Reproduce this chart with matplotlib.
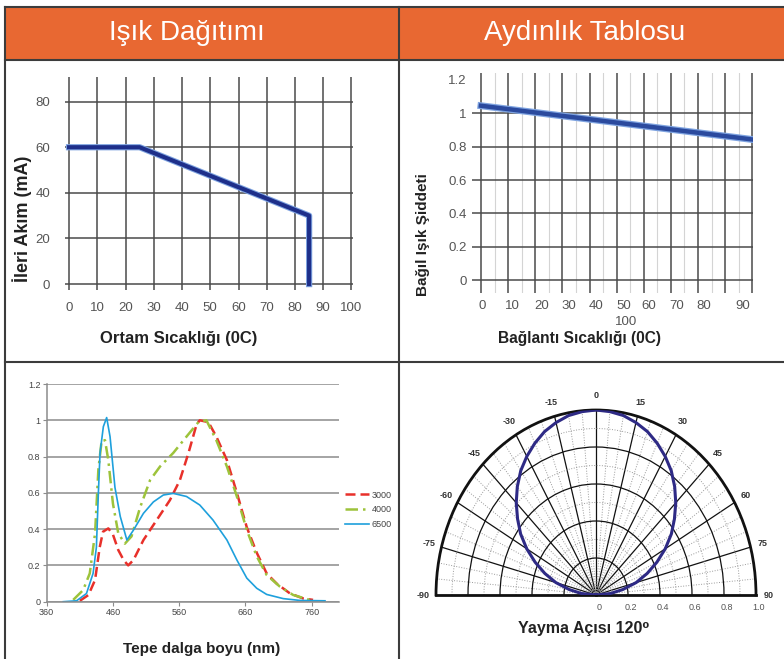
import numpy as np
import matplotlib
matplotlib.use("Agg")
import matplotlib.pyplot as plt
from matplotlib.patches import Rectangle
from matplotlib.transforms import offset_copy, blended_transform_factory

plt.rcParams["font.family"] = ["Liberation Sans", "DejaVu Sans"]

# --- data ---
# panel 1: derating curve
temp1 = [0, 25, 85, 85]
current1 = [60, 60, 30, 0]

# panel 2: relative intensity vs junction temperature
temp2 = [0, 100]
intensity2 = [1.045, 0.843]
temp2_labels = ["0", "10", "20", "30", "40", "50", "60", "70", "80", "90"]

# panel 3: spectra
wl_3000 = [410, 423, 433, 440, 445, 453, 460, 468, 476, 483, 491, 506, 526, 546, 561,
           574, 586, 591, 604, 616, 632, 647, 662, 677, 692, 707, 727, 747, 762]
rel_3000 = [0.005, 0.037, 0.12, 0.30, 0.386, 0.404, 0.37, 0.285, 0.23, 0.20, 0.23, 0.34,
            0.45, 0.56, 0.67, 0.82, 0.975, 1.0, 0.99, 0.91, 0.78, 0.6, 0.41, 0.27, 0.156,
            0.10, 0.046, 0.018, 0.01]
wl_4000 = [400, 415, 425, 433, 438, 443, 448, 453, 460, 468, 478, 488, 501, 516, 531,
           551, 571, 589, 601, 616, 632, 647, 662, 677, 692, 712, 732, 757]
rel_4000 = [0.01, 0.064, 0.156, 0.377, 0.73, 0.89, 0.89, 0.78, 0.54, 0.377, 0.32, 0.36,
            0.52, 0.67, 0.745, 0.82, 0.91, 0.99, 1.0, 0.89, 0.745, 0.58, 0.395, 0.25,
            0.147, 0.083, 0.037, 0.01]
wl_6500 = [385, 405, 420, 430, 435, 438, 440.5, 445.5, 450.5, 455.6, 463, 471, 481, 491,
           506, 521, 536, 551, 571, 591, 611, 632, 647, 662, 677, 692, 717, 742, 780]
rel_6500 = [0, 0.005, 0.045, 0.156, 0.30, 0.6, 0.82, 0.965, 1.015, 0.91, 0.63, 0.47, 0.34,
            0.395, 0.487, 0.55, 0.588, 0.597, 0.58, 0.533, 0.45, 0.34, 0.23, 0.13, 0.074,
            0.04, 0.017, 0.007, 0.005]
cct_labels = ["3000", "4000", "6500"]

# panel 4: beam pattern
beam_angle = list(range(-90, 91, 5))
beam_rel = [0.0, 0.09, 0.17, 0.26, 0.34, 0.42, 0.5, 0.575, 0.64, 0.705, 0.765, 0.82, 0.865,
            0.905, 0.94, 0.965, 0.985, 0.995, 1.0, 0.995, 0.985, 0.965, 0.94, 0.905, 0.865,
            0.82, 0.765, 0.705, 0.64, 0.575, 0.5, 0.42, 0.34, 0.26, 0.17, 0.09, 0.0]
polar_angle_labels = list(range(-90, 91, 15))
polar_r_labels = ["0", "0.2", "0.4", "0.6", "0.8", "1.0"]

ORANGE = "#E86832"
BORDER = "#3c3c3c"

W, H = 784, 659
fig = plt.figure(figsize=(W / 100, H / 100), dpi=100)


def px_axes(x0, y0, x1, y1, **kw):
    # axes placed by pixel box (top-left origin)
    return fig.add_axes([x0 / W, 1 - y1 / H, (x1 - x0) / W, (y1 - y0) / H], **kw)


def fig_text(x, y, s, **kw):
    fig.text(x / W, 1 - y / H, s, ha="center", va="center", **kw)


# table background
bg = px_axes(0, 0, W, H)
bg.set_xlim(0, W)
bg.set_ylim(H, 0)
bg.axis("off")
bg.add_patch(Rectangle((5, 7), W, 53, facecolor=ORANGE, edgecolor="none"))
for y in [7, 60, 362]:
    bg.plot([5, W], [y, y], color=BORDER, lw=1.5)
for x in [5, 399]:
    bg.plot([x, x], [7, H], color=BORDER, lw=1.5)
bg.text(187, 40, "Işık Dağıtımı", color="white", fontsize=20, ha="center", va="baseline")
bg.text(585, 40, "Aydınlık Tablosu", color="white", fontsize=20, ha="center", va="baseline")

# panel 1
ax1 = px_axes(64.8, 77, 352.9, 290)
ax1.set_facecolor("none")
ax1.plot(temp1, current1, color="#7EA3E0", lw=4.5)
ax1.plot(temp1, current1, color="#1E2F8A", lw=3)
ax1.set_xlim(-1.5, 100.5)
ax1.set_ylim(-2.6, 90.8)
ax1.set_xticks(range(0, 101, 10))
ax1.set_yticks(range(0, 81, 20))
ax1.grid(True, color="#4a4a4a", lw=1.1)
ax1.set_axisbelow(True)
for s in ax1.spines.values():
    s.set_visible(False)
ax1.tick_params(length=0, labelsize=9.5, labelcolor="#555555")
ax1.tick_params(axis="y", pad=10.5)
ax1.tick_params(axis="x", pad=8.5)
fig_text(179, 338, "Ortam Sıcaklığı (0C)", fontsize=12, fontweight="bold", color="#222222")
fig_text(22, 219, "İleri Akım (mA)", fontsize=13, fontweight="bold", color="#222222",
         rotation=90)

# panel 2
ax2 = px_axes(472, 73, 753, 293)
ax2.set_facecolor("none")
for xv in np.arange(5, 100, 10):
    ax2.axvline(xv, color="#d4d4d4", lw=0.8, zorder=0)
ax2.plot(temp2, intensity2, color="#7EA3E0", lw=5, zorder=3)
ax2.plot(temp2, intensity2, color="#2B4A9E", lw=3.2, zorder=3)
ax2.set_xlim(-3.3, 100.25)
ax2.set_ylim(-0.076, 1.241)
label_pos = [0.5, 11.5, 22.5, 32.5, 42.5, 52.5, 62, 72, 82, 96.5]
ax2.set_xticks(label_pos, temp2_labels)
ax2.set_xticks(range(0, 101, 10), minor=True)
ax2.set_yticks(np.arange(0, 1.21, 0.2), ["0", "0.2", "0.4", "0.6", "0.8", "1", "1.2"])
ax2.grid(True, which="minor", axis="x", color="#4a4a4a", lw=1.1)
ax2.grid(True, which="major", axis="y", color="#4a4a4a", lw=1.1)
ax2.get_ygridlines()[-1].set_visible(False)
ax2.set_axisbelow(True)
for s in ax2.spines.values():
    s.set_visible(False)
ax2.tick_params(which="both", length=0, labelsize=9.5, labelcolor="#555555")
ax2.tick_params(axis="y", pad=4)
ax2.tick_params(axis="x", pad=5)
ax2.text(53.5, -0.13, "100", transform=blended_transform_factory(ax2.transData, ax2.transAxes),
         ha="center", va="center", fontsize=9.5, color="#555555")
fig_text(580, 339, "Bağlantı Sıcaklığı (0C)", fontsize=11.2, fontweight="bold", color="#222222")
fig_text(423, 235, "Bağıl Işık Şiddeti", fontsize=11, fontweight="bold", color="#222222",
         rotation=90)

# panel 3
ax3 = px_axes(46.7, 384, 338.9, 601.7)
ax3.set_facecolor("none")
ax3.plot(wl_3000, rel_3000, color="#E8302A", lw=1.8, ls=(0, (4, 2)), label=cct_labels[0])
ax3.plot(wl_4000, rel_4000, color="#9DC33B", lw=1.8, ls=(0, (5, 2, 1, 2)), label=cct_labels[1])
ax3.plot(wl_6500, rel_6500, color="#1EA0DC", lw=1.2, label=cct_labels[2])
ax3.set_xlim(360, 801)
ax3.set_ylim(0, 1.2)
ax3.set_xticks(range(360, 761, 100))
ax3.set_yticks(np.arange(0, 1.21, 0.2), ["0", "0.2", "0.4", "0.6", "0.8", "1", "1.2"])
ax3.grid(True, axis="y", color="#8c8c8c", lw=1.1)
ax3.set_axisbelow(True)
ax3.spines[["top", "right"]].set_visible(False)
ax3.spines[["left", "bottom"]].set_color("#8c8c8c")
ax3.spines[["left", "bottom"]].set_linewidth(1.1)
ax3.tick_params(length=3, color="#8c8c8c", labelsize=6.5, labelcolor="#444444", pad=1.5)
ax3.legend(loc="upper left", bbox_to_anchor=(340 / W, 1 - 486 / H),
           bbox_transform=fig.transFigure, frameon=False, fontsize=6.5,
           handlelength=2.7, handletextpad=0.3, labelspacing=0.65, borderpad=0,
           labelcolor="#444444")
fig_text(202, 649, "Tepe dalga boyu (nm)", fontsize=11, fontweight="bold", color="#222222")

# panel 4: polar beam pattern
ax4 = px_axes(436, 317.5, 756, 687.5, projection="polar")
ax4.set_theta_zero_location("N")
ax4.set_theta_direction(-1)
ax4.set_thetamin(-90)
ax4.set_thetamax(90)
ax4.set_ylim(0, 1)
ax4.set_xticks(np.deg2rad(polar_angle_labels))
ax4.set_xticks(np.deg2rad(np.arange(-90, 91, 5)), minor=True)
ax4.set_yticks([0.2, 0.4, 0.6, 0.8])
ax4.set_yticks(np.arange(0.1, 1.0, 0.2), minor=True)
ax4.xaxis.set_ticklabels([])
ax4.yaxis.set_ticklabels([])
ax4.tick_params(which="both", length=0)
ax4.grid(True, which="major", color="#111111", lw=0.9, ls="-")
ax4.grid(True, which="minor", color="#9a9a9a", lw=0.7, ls=":")
for name, sp in ax4.spines.items():
    sp.set_color("#111111")
    sp.set_linewidth(2.0)
ax4.plot(np.deg2rad(beam_angle), beam_rel, color="#2E2A85", lw=2.2, zorder=5)
for a in polar_angle_labels:
    ax4.text(np.deg2rad(a), 1.08, str(a), ha="center", va="center", fontsize=6.5,
             fontweight="bold", color="#333333")
r_off = offset_copy(ax4.transData, fig=fig, x=3, y=-12, units="dots")
for i, lab in enumerate(polar_r_labels):
    ax4.text(np.pi / 2, i * 0.2, lab, transform=r_off, ha="center", va="center",
             fontsize=6.5, color="#555555")
ax4.set_aspect("auto")
fig_text(584, 628, "Yayma Açısı 120⁰", fontsize=11.5, fontweight="bold", color="#222222")

fig.savefig("out.png", dpi=100)
